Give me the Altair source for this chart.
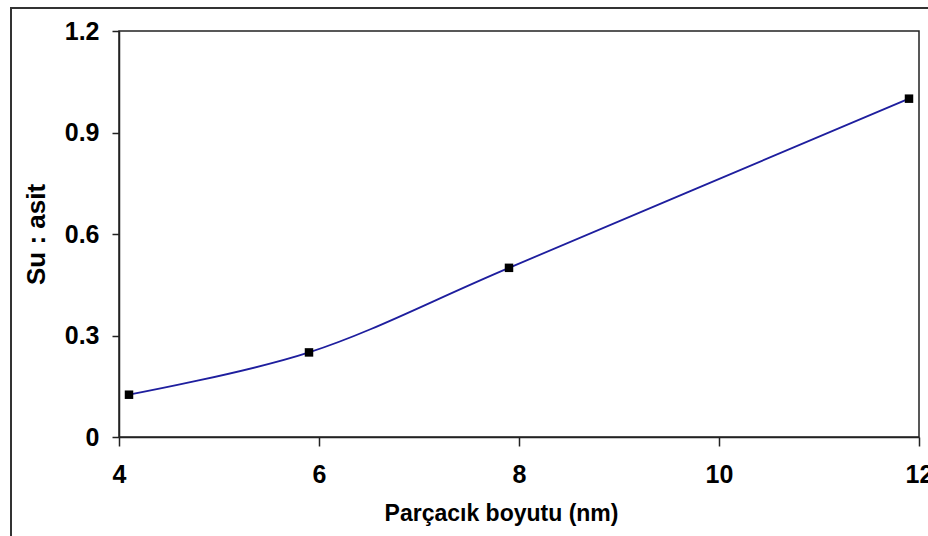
import altair as alt
import pandas as pd

size_nm = [4.1, 5.9, 7.9, 11.9]
ratio = [0.125, 0.25, 0.5, 1.0]

df = pd.DataFrame({"x": size_nm, "y": ratio})

FONT = "Liberation Sans"

x_enc = alt.X("x:Q", scale=alt.Scale(domain=[4, 12], nice=False, zero=False),
              axis=alt.Axis(title="Parçacık boyutu (nm)", values=[4, 6, 8, 10, 12],
                            format="d", tickSize=9, labelPadding=16, titlePadding=15,
                            labelFlush=False,
                            titleX=382, titleAlign="center", titleFontSize=23))
y_enc = alt.Y("y:Q", scale=alt.Scale(domain=[0, 1.2], nice=False),
              axis=alt.Axis(title="Su : asit", values=[0, 0.3, 0.6, 0.9, 1.2],
                            labelExpr="datum.value == 0 ? '0' : format(datum.value, '.1f')",
                            labelFlush=False,
                            tickSize=7, labelPadding=13, titlePadding=15, titleFontSize=26))

line = alt.Chart(df).mark_line(interpolate="catmull-rom", color="#1e1e9e", strokeWidth=1.8).encode(
    x=x_enc, y=y_enc)
pts = alt.Chart(df).mark_point(shape="square", filled=True, color="black", size=72, opacity=1).encode(
    x="x:Q", y="y:Q")

border = alt.Chart(df).mark_rect(fill=None, stroke="#333333", strokeWidth=2, clip=False).encode(
    x=alt.value(-108), x2=alt.value(820), y=alt.value(-23), y2=alt.value(515))

chart = alt.layer(border, line, pts).properties(
    width=800, height=406,
    autosize=alt.AutoSizeParams(type="none"),
    padding={"left": 119, "top": 31, "right": 9, "bottom": 99},
    background="white",
).configure_view(stroke="#222222", strokeWidth=1.5).configure_axis(
    grid=False, domainColor="#222222", domainWidth=1.5, tickColor="#222222", tickWidth=1.5,
    labelFont=FONT, labelFontSize=25, labelFontWeight="bold", labelColor="black",
    titleFont=FONT, titleFontWeight="bold", titleColor="black",
)

chart.save("out.html", embed_options={"renderer": "svg", "actions": False})
